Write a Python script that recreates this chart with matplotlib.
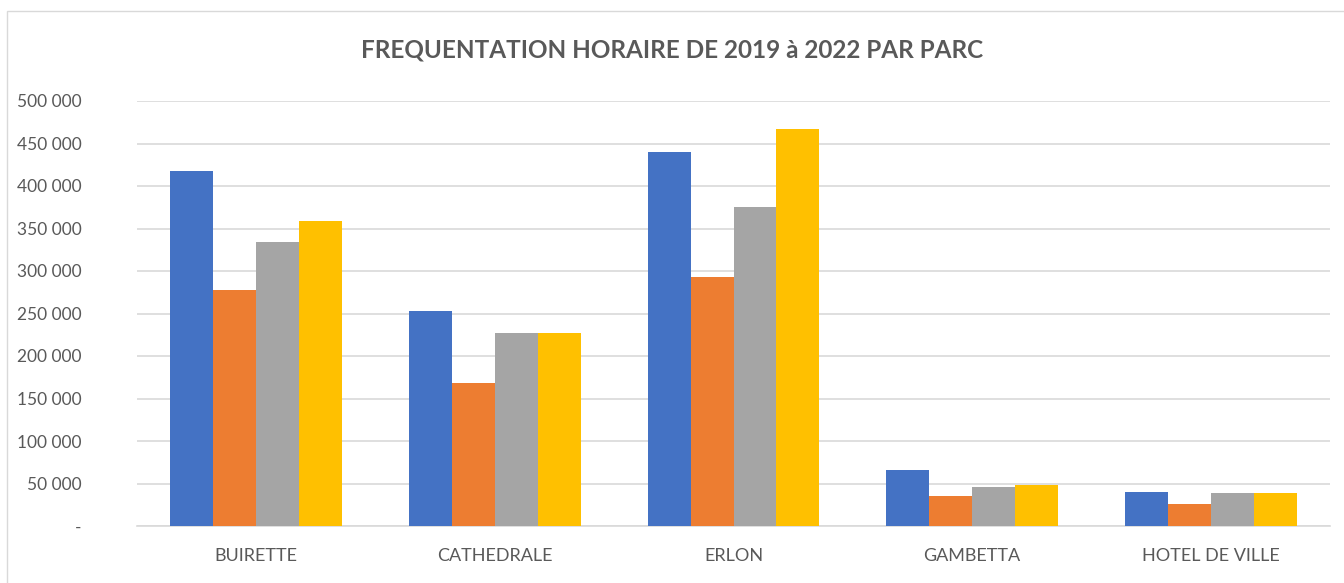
import numpy as np
import matplotlib.pyplot as plt
from matplotlib.patches import Rectangle
from matplotlib.ticker import FuncFormatter

plt.rcParams['font.family'] = ['Lato', 'DejaVu Sans']

parcs = ["BUIRETTE", "CATHEDRALE", "ERLON", "GAMBETTA", "HOTEL DE VILLE"]
annees = ["2019", "2020", "2021", "2022"]
v2019 = [418000, 253000, 440000, 66000, 40000]
v2020 = [278000, 168000, 293000, 35000, 26000]
v2021 = [334000, 227000, 375000, 46000, 39000]
v2022 = [359000, 227000, 467000, 48000, 38500]
couleurs = ["#4472C4", "#ED7D31", "#A5A5A5", "#FFC000"]

fig = plt.figure(figsize=(13.44, 5.83), dpi=100)
fig.patches.append(Rectangle((7 / 1344, -0.1), 1.1, 1 - 11 / 583 + 0.1, transform=fig.transFigure,
                             fill=False, edgecolor="#d9d9d9", linewidth=1))
ax = fig.add_axes([137 / 1344, 1 - 526 / 583, (1330 - 137) / 1344, (526 - 101) / 583])

x = np.arange(len(parcs))
w = 0.18
for i, (serie, c) in enumerate(zip([v2019, v2020, v2021, v2022], couleurs)):
    ax.bar(x + (i - 1.5) * w, serie, width=w, color=c, label=annees[i], zorder=3)

ax.set_xlim(-0.5, len(parcs) - 0.5)
ax.set_ylim(0, 500000)
ax.set_yticks(np.arange(0, 500001, 50000))
ax.yaxis.set_major_formatter(FuncFormatter(lambda v, p: "-" if v == 0 else f"{int(v):,}".replace(",", " ")))
ax.set_xticks(x)
ax.set_xticklabels(parcs)
ax.tick_params(length=0, colors="#595959")
ax.tick_params(axis="x", pad=16, labelsize=13)
ax.tick_params(axis="y", pad=40, labelsize=12.5)
ax.grid(axis="y", color="#d9d9d9", linewidth=1.2, zorder=0)
for s in ["top", "right", "left"]:
    ax.spines[s].set_visible(False)
ax.spines["bottom"].set_color("#d9d9d9")
ax.spines["bottom"].set_linewidth(1.2)

fig.text(0.5, 1 - 50 / 583, "FREQUENTATION HORAIRE DE 2019 à 2022 PAR PARC", ha="center", va="center",
         fontsize=17.5, fontweight="bold", color="#595959")

fig.savefig("out.png", dpi=100)
